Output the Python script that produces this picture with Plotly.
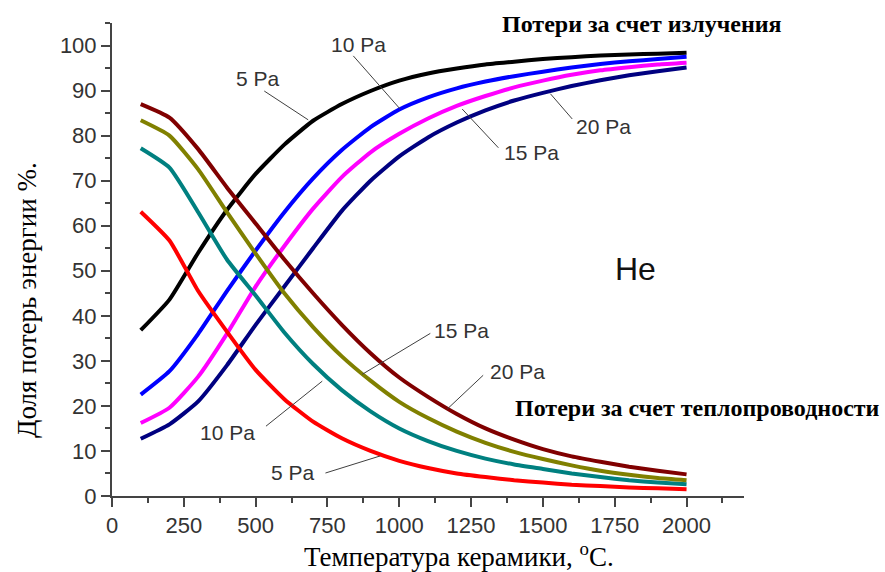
import plotly.graph_objects as go

# ---- data ----
temperature = [100, 200, 300, 400, 500, 600, 700, 800, 900, 1000,
               1100, 1200, 1300, 1400, 1500, 1600, 1700, 1800, 1900, 2000]

# radiation losses
rad_5 = [36.8, 43.6, 54.0, 63.5, 71.5, 78.0, 83.3, 87.0, 89.9, 92.2,
         93.8, 94.9, 95.8, 96.4, 97.0, 97.4, 97.8, 98.0, 98.2, 98.4]
rad_10 = [22.5, 27.7, 36.0, 45.5, 54.5, 63.0, 70.5, 76.8, 81.9, 85.8,
          88.5, 90.5, 92.0, 93.2, 94.2, 95.1, 95.9, 96.5, 97.0, 97.5]
rad_15 = [16.2, 19.6, 26.5, 36.0, 46.5, 55.5, 63.8, 70.8, 76.3, 80.4,
          83.8, 86.6, 88.8, 90.7, 92.2, 93.5, 94.5, 95.2, 95.8, 96.2]
rad_20 = [12.7, 15.9, 21.0, 29.0, 38.0, 46.5, 55.0, 63.3, 70.0, 75.4,
          79.6, 82.9, 85.6, 87.8, 89.5, 91.0, 92.3, 93.4, 94.3, 95.1]

# conduction losses
cond_5 = [63.1, 56.7, 45.5, 36.5, 28.0, 21.5, 16.5, 12.8, 10.0, 7.8,
          6.2, 5.0, 4.2, 3.5, 3.0, 2.5, 2.2, 1.9, 1.7, 1.5]
cond_10 = [77.2, 72.9, 63.0, 52.5, 44.5, 36.3, 29.3, 23.5, 18.8, 15.0,
           12.2, 10.0, 8.3, 7.0, 6.0, 5.0, 4.2, 3.5, 3.0, 2.6]
cond_15 = [83.4, 80.0, 72.5, 63.0, 53.8, 45.0, 37.5, 31.0, 25.6, 20.9,
           17.3, 14.3, 11.8, 9.8, 8.2, 6.8, 5.6, 4.7, 4.0, 3.5]
cond_20 = [87.0, 84.0, 77.0, 68.5, 60.5, 52.5, 45.0, 38.0, 31.7, 26.3,
           22.0, 18.2, 15.0, 12.5, 10.4, 8.8, 7.6, 6.5, 5.6, 4.8]

series = [
    ("rad 5 Pa", rad_5, "#000000"),
    ("rad 10 Pa", rad_10, "#0000FF"),
    ("rad 15 Pa", rad_15, "#FF00FF"),
    ("rad 20 Pa", rad_20, "#000080"),
    ("cond 5 Pa", cond_5, "#FF0000"),
    ("cond 10 Pa", cond_10, "#008080"),
    ("cond 15 Pa", cond_15, "#808000"),
    ("cond 20 Pa", cond_20, "#800000"),
]

# pressure labels: text, text position (T, %), leader line start, leader line end
pressure_labels = [
    ("5 Pa", (509, 92.6), (530, 89.9), (683, 83.5)),
    ("10 Pa", (857, 100.3), (840, 97.7), (1003, 85.9)),
    ("15 Pa", (1460, 76.2), (1219, 85.9), (1345, 77.3)),
    ("20 Pa", (1710, 82.0), (1526, 89.3), (1602, 83.7)),
    ("10 Pa", (402, 14.2), (536, 15.5), (732, 25.5)),
    ("15 Pa", (1216, 36.8), (871, 27.0), (1108, 36.1)),
    ("20 Pa", (1410, 27.7), (1167, 19.3), (1292, 26.8)),
    ("5 Pa", (631, 5.3), (743, 5.1), (934, 8.9)),
]

x_title = "Температура керамики, <sup>o</sup>С."
y_title = "Доля потерь энергии %."
note_rad = "Потери за счет излучения"
note_cond = "Потери за счет теплопроводности"
gas_label = "He"

SANS = "Liberation Sans, Arial, sans-serif"
SERIF = "Liberation Serif, Times New Roman, serif"
AXIS_COLOR = "#444444"
TEXT_COLOR = "#333333"

fig = go.Figure()
for name, vals, color in series:
    fig.add_trace(go.Scatter(x=temperature, y=vals, mode="lines", name=name,
                             line=dict(color=color, width=4, shape="spline", smoothing=0.5),
                             showlegend=False))

shapes = []
annotations = []
for text, (tx, ty), (x0, y0), (x1, y1) in pressure_labels:
    shapes.append(dict(type="line", xref="x", yref="y", x0=x0, y0=y0, x1=x1, y1=y1,
                       line=dict(color="#404040", width=1)))
    annotations.append(dict(x=tx, y=ty, xref="x", yref="y", text=text, showarrow=False,
                            font=dict(family=SANS, size=21, color=TEXT_COLOR)))

annotations += [
    dict(x=642, y=24, xref="paper", yref="paper", text="<b>" + note_rad + "</b>",
         showarrow=False, font=dict(family=SERIF, size=24, color="#000000")),
    dict(x=697, y=408, xref="paper", yref="paper", text="<b>" + note_cond + "</b>",
         showarrow=False, font=dict(family=SERIF, size=24, color="#000000")),
    dict(x=635, y=269, xref="paper", yref="paper", text=gas_label,
         showarrow=False, font=dict(family=SANS, size=32, color="#111111")),
    dict(x=459, y=555, xref="paper", yref="paper", text=x_title,
         showarrow=False, font=dict(family=SERIF, size=27, color="#000000")),
    dict(x=27, y=300, xref="paper", yref="paper", text=y_title, textangle=-90,
         showarrow=False, font=dict(family=SERIF, size=27, color="#000000")),
]

# convert pixel-positioned notes to paper coords
W, H = 885, 572
L, R, T, B = 112, 141, 23, 76
pw, ph = W - L - R, H - T - B
for a in annotations:
    if a["xref"] == "paper":
        a["x"] = (a["x"] - L) / pw
        a["y"] = (H - B - a["y"]) / ph
        a["xanchor"] = "center"
        a["yanchor"] = "middle"

axis_common = dict(
    showline=True, linecolor=AXIS_COLOR, linewidth=2,
    ticks="outside", ticklen=9, tickwidth=2, tickcolor=AXIS_COLOR,
    showgrid=False, zeroline=False,
    tickfont=dict(family=SANS, size=22, color=TEXT_COLOR),
)

fig.update_layout(
    width=W, height=H,
    margin=dict(l=L, r=R, t=T, b=B),
    paper_bgcolor="white", plot_bgcolor="white",
    xaxis=dict(range=[0, 2200], tickvals=[0, 250, 500, 750, 1000, 1250, 1500, 1750, 2000],
               minor=dict(dtick=125, ticks="outside", ticklen=5, tickwidth=2, tickcolor=AXIS_COLOR),
               **axis_common),
    yaxis=dict(range=[0, 105], tickvals=[0, 10, 20, 30, 40, 50, 60, 70, 80, 90, 100],
               minor=dict(dtick=5, ticks="outside", ticklen=5, tickwidth=2, tickcolor=AXIS_COLOR),
               **axis_common),
    shapes=shapes,
    annotations=annotations,
)

fig.write_html("out.html")
